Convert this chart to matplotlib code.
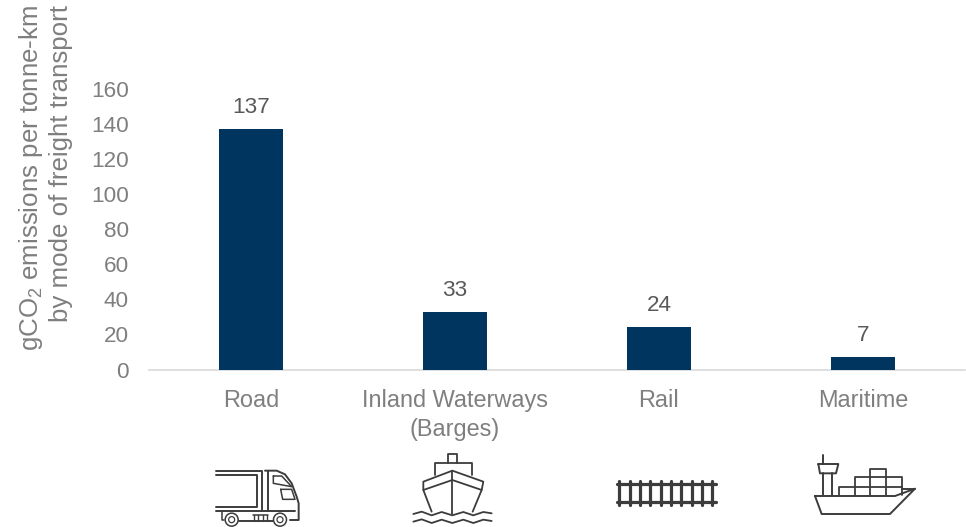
import matplotlib
matplotlib.use("Agg")
import matplotlib.pyplot as plt
from matplotlib.patches import Circle

plt.rcParams["font.family"] = ["Liberation Sans", "DejaVu Sans"]
plt.rcParams["mathtext.default"] = "regular"

W, H = 966, 527

categories = ["Road", "Inland Waterways\n(Barges)", "Rail", "Maritime"]
emissions = [137, 33, 24, 7]
y_ticks = [0, 20, 40, 60, 80, 100, 120, 140, 160]
label_line_1 = "gCO$_2$ emissions per tonne-km"
label_line_2 = "by mode of freight transport"

BAR = "#003560"
GREY = "#7f7f7f"
DARK = "#595959"
ICON = "#3c3c3c"

fig = plt.figure(figsize=(W / 100, H / 100), dpi=100)
fig.patch.set_facecolor("white")

# Plot area placed in pixel terms
left, right, top, bottom = 149, 965, 89, 369.5
ax = fig.add_axes([left / W, 1 - bottom / H, (right - left) / W, (bottom - top) / H])
positions = list(range(len(categories)))
ax.bar(positions, emissions, width=0.315, color=BAR, zorder=3)
ax.set_xlim(-0.5, 3.5)
ax.set_ylim(0, 160)
ax.set_yticks(y_ticks)
ax.set_xticks(positions)
ax.set_xticklabels(categories, fontsize=16.9, color=GREY, linespacing=1.32)
ax.tick_params(axis="y", length=0, labelsize=16.2, labelcolor=GREY, pad=14.5)
ax.tick_params(axis="x", length=0, pad=14)
for name in ("top", "right", "left"):
    ax.spines[name].set_visible(False)
ax.spines["bottom"].set_color("#d9d9d9")
ax.spines["bottom"].set_linewidth(1.2)

for x, v in zip(positions, emissions):
    ax.annotate(str(v), (x, v), xytext=(0, 8), textcoords="offset points",
                ha="center", va="bottom", fontsize=16.2, color=DARK)

# Overlay in pixel coordinates for the axis title and the transport icons
ov = fig.add_axes([0, 0, 1, 1], facecolor="none")
ov.set_xlim(0, W)
ov.set_ylim(H, 0)
ov.axis("off")

ov.text(31, 5, label_line_1, rotation=90, ha="center", va="top",
        fontsize=18.6, color=GREY)
ov.text(61, 5, label_line_2, rotation=90, ha="center", va="top",
        fontsize=18.6, color=GREY)


def stroke(origin, pts, lw=1.3, closed=False):
    """Draw a polyline given in thirds of a pixel from an icon origin."""
    ox, oy = origin
    xs = [ox + p[0] / 3 for p in pts]
    ys = [oy + p[1] / 3 for p in pts]
    if closed:
        xs.append(xs[0])
        ys.append(ys[0])
    ov.plot(xs, ys, color=ICON, lw=lw, solid_capstyle="round",
            solid_joinstyle="round")


# Truck
o = (180, 440)
stroke(o, [(108, 92), (245, 92), (245, 212)], 1.4)
stroke(o, [(108, 105), (230, 105), (230, 200), (108, 200)], 1.4)
stroke(o, [(108, 213), (345, 213)], 1.4)
stroke(o, [(255, 92), (290, 92), (315, 103), (335, 130), (350, 170),
           (356, 190), (356, 240), (330, 240)], 1.4)
stroke(o, [(265, 92), (265, 213)], 1.4)
stroke(o, [(280, 108), (305, 108), (335, 140), (280, 130)], 1.1, True)
stroke(o, [(302, 148), (335, 148), (345, 178), (308, 178)], 1.1, True)
stroke(o, [(125, 213), (125, 240), (133, 240)], 1.1)
stroke(o, [(178, 242), (280, 242)], 1.4)
stroke(o, [(220, 225), (265, 225)], 1.1)
for i in (222, 235, 248, 261):
    stroke(o, [(i, 225), (i, 242)], 1.0)
for cx in (155, 300):
    ov.add_patch(Circle((o[0] + cx / 3, o[1] + 239 / 3), 6.5, fill=False,
                        ec=ICON, lw=1.1))
    ov.add_patch(Circle((o[0] + cx / 3, o[1] + 239 / 3), 3, fill=False,
                        ec=ICON, lw=0.9))

# Barge
stroke(o, [(805, 70), (805, 42), (830, 42), (830, 70)], 1.3)
stroke(o, [(765, 105), (765, 70), (875, 70), (875, 105)], 1.3)
stroke(o, [(755, 215), (730, 150), (730, 125), (817, 92), (910, 125),
           (905, 150), (878, 215)], 1.3)
stroke(o, [(730, 150), (817, 120), (905, 150)], 1.3)
stroke(o, [(817, 92), (817, 222)], 1.3)
stroke(o, [(700, 222), (725, 215), (755, 226), (785, 216), (817, 226),
           (850, 216), (880, 226), (910, 216), (935, 220)], 1.3)
stroke(o, [(700, 245), (725, 238), (755, 249), (785, 239), (817, 249),
           (850, 239), (880, 249), (910, 239), (935, 243)], 1.3)

# Rail track
o = (590, 440)
stroke(o, [(80, 132), (378, 132)], 2.3)
stroke(o, [(80, 187), (378, 187)], 2.3)
for x in (88, 119, 150, 181, 212, 243, 274, 305, 336, 367):
    stroke(o, [(x, 124), (x, 194)], 2.3)

# Container ship
stroke(o, [(675, 168), (915, 168), (975, 146), (900, 222), (695, 222)], 1.4, True)
stroke(o, [(935, 146), (975, 146)], 1.4)
stroke(o, [(700, 165), (700, 100)], 1.4)
stroke(o, [(725, 165), (725, 100)], 1.4)
stroke(o, [(685, 72), (745, 72), (738, 100), (690, 100)], 1.4, True)
stroke(o, [(700, 46), (700, 72)], 1.4)
stroke(o, [(748, 165), (748, 140), (795, 140)], 1.3)
stroke(o, [(795, 165), (795, 112), (935, 112), (935, 165)], 1.3)
stroke(o, [(795, 140), (935, 140)], 1.3)
stroke(o, [(840, 165), (840, 88), (888, 88), (888, 165)], 1.3)

fig.savefig("out.png", dpi=100)
